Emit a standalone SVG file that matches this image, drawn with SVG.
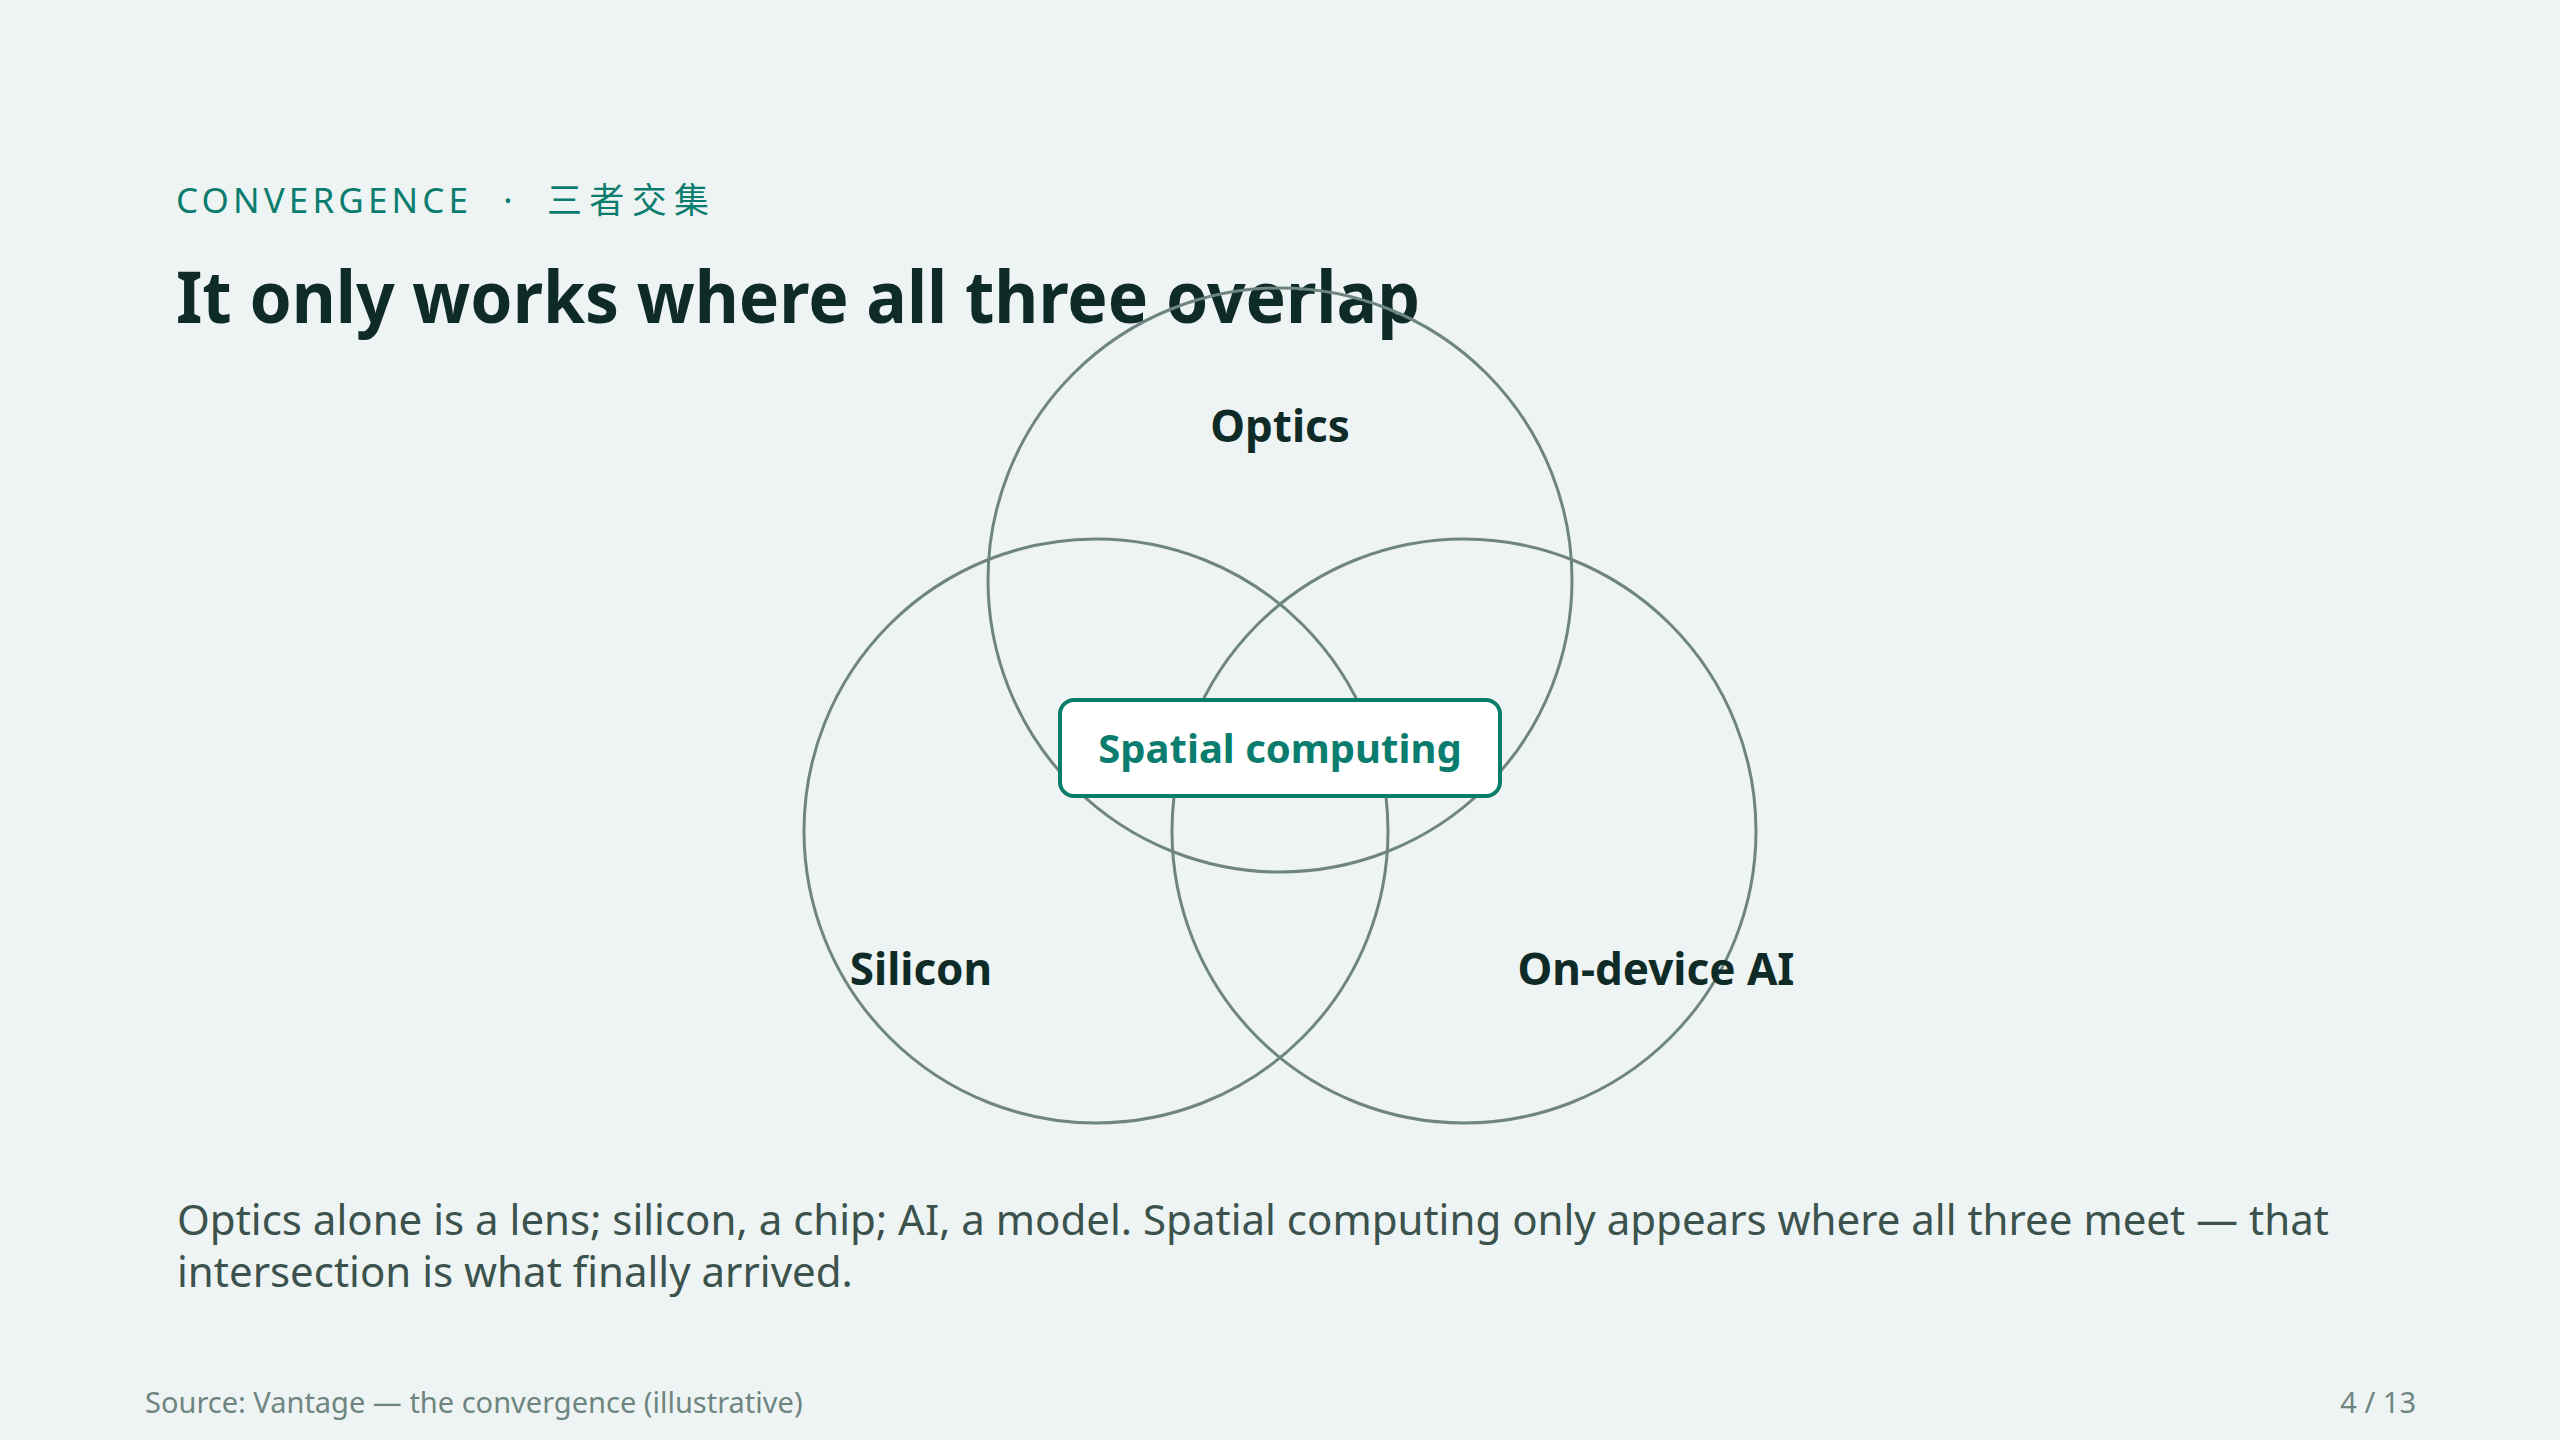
<svg xmlns="http://www.w3.org/2000/svg" width="2560" height="1440" viewBox="0 0 2560 1440">
<style>
.sans{font-family:"Noto Sans","Open Sans","Liberation Sans",sans-serif}
.eyebrow{font-size:35px;fill:#0b7d6e}
.title{font-size:71px;font-weight:700;fill:#0f2b27}
.lbl{font-size:44px;font-weight:700;fill:#0f2b27;text-anchor:middle}
.ring{fill:none;stroke:#6e8580;stroke-width:3}
.body{font-size:42px;fill:#3b524d}
.foot{font-size:29px;fill:#6e8580}
</style>
<rect width="2560" height="1440" fill="#eef4f3"/>
<text class="sans eyebrow" x="176" y="213" textLength="292" lengthAdjust="spacing">CONVERGENCE</text>
<text class="sans eyebrow" x="508" y="213" text-anchor="middle">·</text>
<text class="eyebrow" x="547" y="213" font-size="36" textLength="162" lengthAdjust="spacing" font-family="'Noto Sans CJK SC','Noto Sans CJK JP',sans-serif">三者交集</text>
<text class="sans title" x="176" y="323" textLength="1244" lengthAdjust="spacingAndGlyphs">It only works where all three overlap</text>
<g id="connectors"></g>
<g id="optics"><circle class="ring" cx="1280" cy="580" r="292"/><text class="sans lbl" x="1280" y="442">Optics</text></g>
<g id="silicon"><circle class="ring" cx="1096" cy="831" r="292"/><text class="sans lbl" x="921" y="985">Silicon</text></g>
<g id="ondevice-ai"><circle class="ring" cx="1464" cy="831" r="292"/><text class="sans lbl" x="1656" y="985">On-device AI</text></g>
<g id="spatial-computing"><rect x="1060" y="700" width="440" height="96" rx="14" fill="#ffffff" stroke="#0b7d6e" stroke-width="4"/><text class="sans" x="1280" y="763" font-size="40" font-weight="700" fill="#0b7d6e" text-anchor="middle">Spatial computing</text></g>
<text class="sans body" x="177" y="1235">Optics alone is a lens; silicon, a chip; AI, a model. Spatial computing only appears where all three meet — that</text>
<text class="sans body" x="177" y="1287">intersection is what finally arrived.</text>
<text class="sans foot" x="145" y="1413">Source: Vantage — the convergence (illustrative)</text>
<text class="sans foot" x="2416" y="1413" text-anchor="end">4 / 13</text>
</svg>
